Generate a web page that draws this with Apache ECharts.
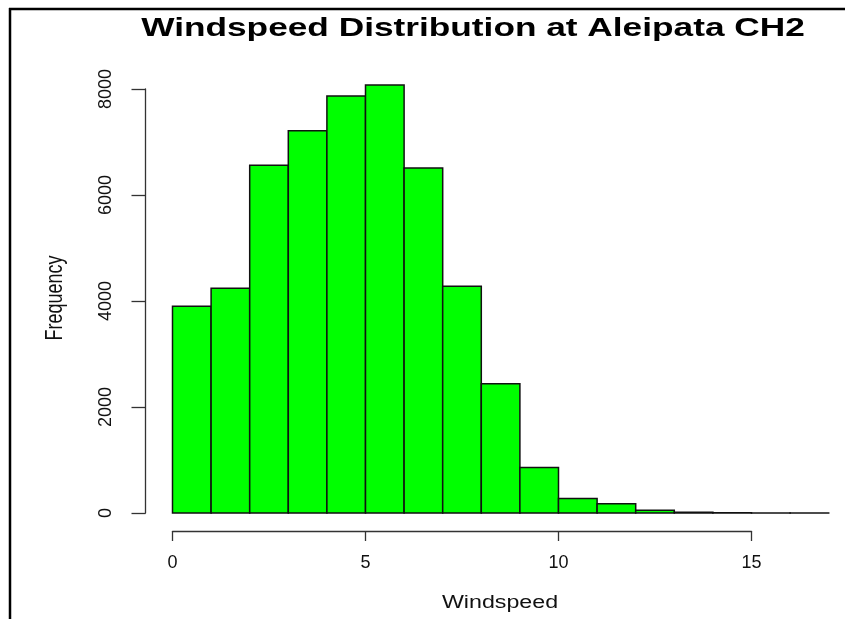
<!DOCTYPE html>
<html>
<head>
<meta charset="utf-8">
<script src="https://cdn.jsdelivr.net/npm/echarts@6/dist/echarts.min.js"></script>
<style>
html,body{margin:0;padding:0;background:#fff;}
#chart{width:845px;height:619px;}
</style>
</head>
<body>
<div id="chart"></div>
<script>
// Histogram bins (windspeed) and frequencies
var binStarts = [0,1,2,3,4,5,6,7,8,9,10,11,12,13,14,15,16];
var binEnds   = [1,2,3,4,5,6,7,8,9,10,11,12,13,14,15,16,17];
var counts    = [3900,4240,6560,7210,7870,8075,6510,4280,2440,860,275,175,50,15,4,2,1];
var xTicks = [0,5,10,15];
var yTicks = [0,2000,4000,6000,8000];
var titleText = 'Windspeed Distribution at Aleipata CH2';
var xName = 'Windspeed';
var yName = 'Frequency';

var data = binStarts.map(function(s,i){ return [s, binEnds[i], counts[i]]; });
var FONT = '"Liberation Sans", Arial, sans-serif';

var chart = echarts.init(document.getElementById('chart'));
chart.setOption({
  animation:false,
  backgroundColor:'#fff',
  grid:{left:172.5, top:89, width:579, height:424, containLabel:false},
  xAxis:{
    type:'value', min:xTicks[0], max:xTicks[xTicks.length-1], interval:5, offset:18,
    axisLine:{show:true, onZero:false, lineStyle:{color:'#333', width:1.3}},
    axisTick:{show:true, length:10, lineStyle:{color:'#333', width:1.3}},
    axisLabel:{fontSize:18, fontFamily:FONT, color:'#111', margin:23,
      formatter:function(v){ return String(v); }},
    splitLine:{show:false}
  },
  yAxis:{
    type:'value', min:yTicks[0], max:yTicks[yTicks.length-1], interval:2000, offset:27,
    axisLine:{show:true, onZero:false, lineStyle:{color:'#333', width:1.3}},
    axisTick:{show:true, length:14, lineStyle:{color:'#333', width:1.3}},
    axisLabel:{fontSize:18, fontFamily:FONT, color:'#111', rotate:90, margin:30,
      formatter:function(v){ return String(v); }},
    splitLine:{show:false}
  },
  series:[{
    type:'custom',
    clip:false,
    data:data,
    encode:{x:[0,1], y:2},
    renderItem:function(params, api){
      var x0 = api.value(0), x1 = api.value(1), v = api.value(2);
      var pTop = api.coord([x0, v]);
      var pBot = api.coord([x1, 0]);
      return {
        type:'rect',
        shape:{x:pTop[0], y:pTop[1], width:pBot[0]-pTop[0], height:pBot[1]-pTop[1]},
        style:{fill:'#00ff00', stroke:'#111', lineWidth:1.5}
      };
    }
  }],
  graphic:[
    {type:'line', shape:{x1:10, y1:8, x2:10, y2:619}, style:{stroke:'#000', lineWidth:2.5}},
    {type:'line', shape:{x1:9, y1:9, x2:845, y2:9}, style:{stroke:'#000', lineWidth:2.5}},
    {type:'text', x:473, y:29, scaleX:1.41,
     style:{text:titleText, font:'bold 25px ' + FONT, fill:'#000', align:'center', verticalAlign:'middle', textAlign:'center', textVerticalAlign:'middle'}},
    {type:'text', x:500, y:603, scaleX:1.29,
     style:{text:xName, font:'18px ' + FONT, fill:'#111', align:'center', verticalAlign:'middle', textAlign:'center', textVerticalAlign:'middle'}},
    {type:'text', x:56, y:298, rotation:Math.PI/2, scaleY:1.3,
     style:{text:yName, font:'18px ' + FONT, fill:'#111', align:'center', verticalAlign:'middle', textAlign:'center', textVerticalAlign:'middle'}}
  ]
});
</script>
</body>
</html>
